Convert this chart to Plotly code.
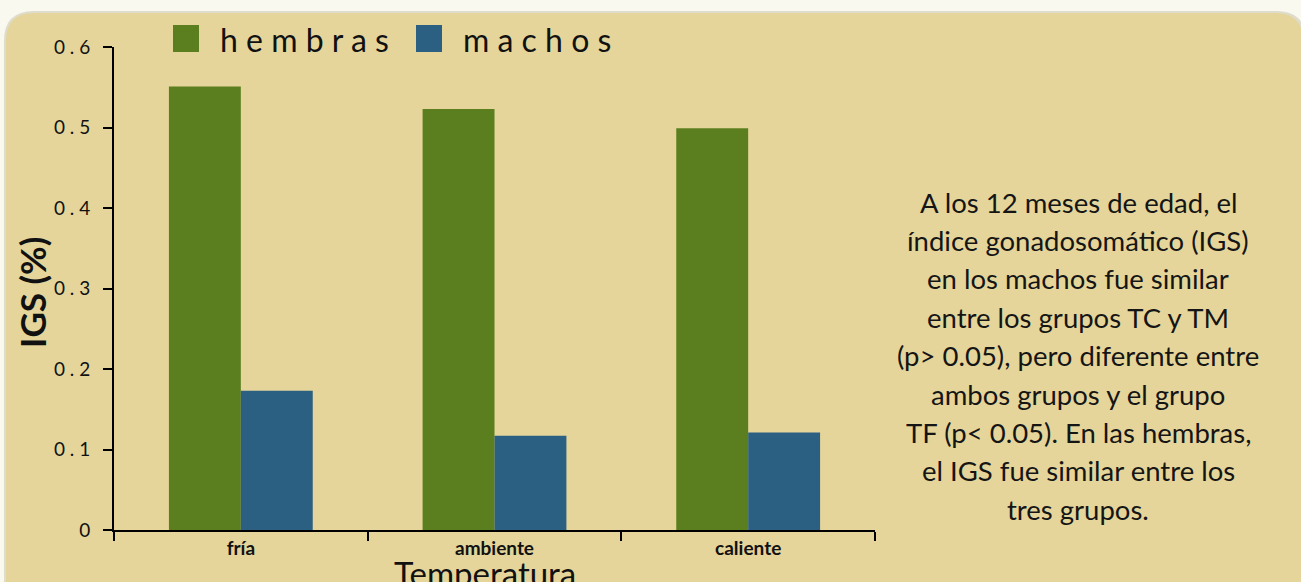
import plotly.graph_objects as go

# ---------------- data ----------------
categories = ["fría", "ambiente", "caliente"]
hembras = [0.551, 0.523, 0.499]
machos = [0.173, 0.117, 0.121]
series_names = ["hembras", "machos"]
series_colors = ["#5b7f1f", "#2c6083"]
y_tick_vals = [0, 0.1, 0.2, 0.3, 0.4, 0.5, 0.6]
y_tick_labels = ["0", "0 . 1", "0 . 2", "0 . 3", "0 . 4", "0 . 5", "0 . 6"]
y_title = "IGS (%)"
x_title = "Temperatura"
note_lines = [
    "A los 12 meses de edad, el",
    "índice gonadosomático (IGS)",
    "en los machos fue similar",
    "entre los grupos TC y TM",
    "(p> 0.05), pero diferente entre",
    "ambos grupos y el grupo",
    "TF (p< 0.05). En las hembras,",
    "el IGS fue similar entre los",
    "tres grupos.",
]

# ---------------- layout geometry (pixels) ----------------
W, H = 1301, 582
L, R, T, B = 114, 875, 47, 530
FONT = "Lato"
TAN = "#e5d59a"
PAGE = "#faf9ef"


def px(x):
    return (x - L) / (R - L)


def py(y):
    return (B - y) / (B - T)


def rounded_path(x0, y0, x1, y1, r):
    rx = r / (R - L)
    ry = r / (B - T)
    X0, X1 = px(x0), px(x1)
    Y0, Y1 = py(y0), py(y1)
    return (
        f"M {X0},{Y1} L {X0},{Y0 - ry} Q {X0},{Y0} {X0 + rx},{Y0} "
        f"L {X1 - rx},{Y0} Q {X1},{Y0} {X1},{Y0 - ry} L {X1},{Y1} Z"
    )


fig = go.Figure()
fig.add_trace(go.Bar(x=categories, y=hembras, name=series_names[0],
                     marker=dict(color=series_colors[0], line=dict(width=0))))
fig.add_trace(go.Bar(x=categories, y=machos, name=series_names[1],
                     marker=dict(color=series_colors[1], line=dict(width=0))))

shapes = [
    dict(type="path", xref="paper", yref="paper", layer="below",
         path=rounded_path(4, 11, 1306, 600, 30),
         fillcolor="rgba(170,165,140,0.35)", line=dict(width=0)),
    dict(type="path", xref="paper", yref="paper", layer="below",
         path=rounded_path(6, 13, 1303, 600, 28),
         fillcolor=TAN, line=dict(width=0)),
]

annotations = []
# custom legend
legend_sq_x = [173, 416]
legend_txt_x = [218, 461]
for i, name in enumerate(series_names):
    shapes.append(dict(type="rect", xref="paper", yref="paper",
                       x0=px(legend_sq_x[i]), x1=px(legend_sq_x[i] + 26),
                       y0=py(52), y1=py(25),
                       fillcolor=series_colors[i], line=dict(width=0)))
    annotations.append(dict(xref="paper", yref="paper", x=px(legend_txt_x[i]), y=py(40),
                            xanchor="left", yanchor="middle", showarrow=False,
                            text=" ".join(name),
                            font=dict(family=FONT, size=32, color="#111")))

# axis titles
annotations.append(dict(xref="paper", yref="paper", x=px(32), y=py(293),
                        textangle=-90, showarrow=False, xanchor="center", yanchor="middle",
                        text=f"<b>{y_title}</b>",
                        font=dict(family=FONT, size=35, color="#111")))
annotations.append(dict(xref="paper", yref="paper", x=px(485), y=py(573),
                        showarrow=False, xanchor="center", yanchor="middle",
                        text=x_title,
                        font=dict(family=FONT, size=33, color="#111")))

# side note
for i, line in enumerate(note_lines):
    annotations.append(dict(xref="paper", yref="paper", x=px(1078), y=py(202 + i * 38.4),
                            showarrow=False, xanchor="center", yanchor="middle",
                            text=line,
                            font=dict(family=FONT, size=27.5, color="#151515")))

fig.update_layout(
    width=W, height=H,
    margin=dict(l=L, r=W - R, t=T, b=H - B, pad=0),
    paper_bgcolor=PAGE,
    plot_bgcolor="rgba(0,0,0,0)",
    barmode="group", bargap=0.433, bargroupgap=0,
    showlegend=False,
    shapes=shapes,
    annotations=annotations,
    font=dict(family=FONT, color="#111"),
)
fig.update_xaxes(
    type="category", range=[-0.5, 2.5],
    showline=True, linewidth=2, linecolor="#000",
    ticks="outside", tickson="boundaries", ticklen=9, tickwidth=2, tickcolor="#000",
    tickfont=dict(family=FONT, size=19, color="#111", weight="bold"),
    showgrid=False, zeroline=False,
)
fig.update_yaxes(
    range=[0, 0.6],
    showline=True, linewidth=2, linecolor="#000",
    ticks="outside", ticklen=9, tickwidth=2, tickcolor="#000",
    tickvals=y_tick_vals, ticktext=y_tick_labels,
    tickfont=dict(family=FONT, size=19, color="#111"),
    ticklabelstandoff=9,
    showgrid=False, zeroline=False,
)

fig.write_html(
    "out.html",
    config={"displayModeBar": False},
    post_script="document.body.style.margin='0';document.body.style.background='#faf9ef';",
)
